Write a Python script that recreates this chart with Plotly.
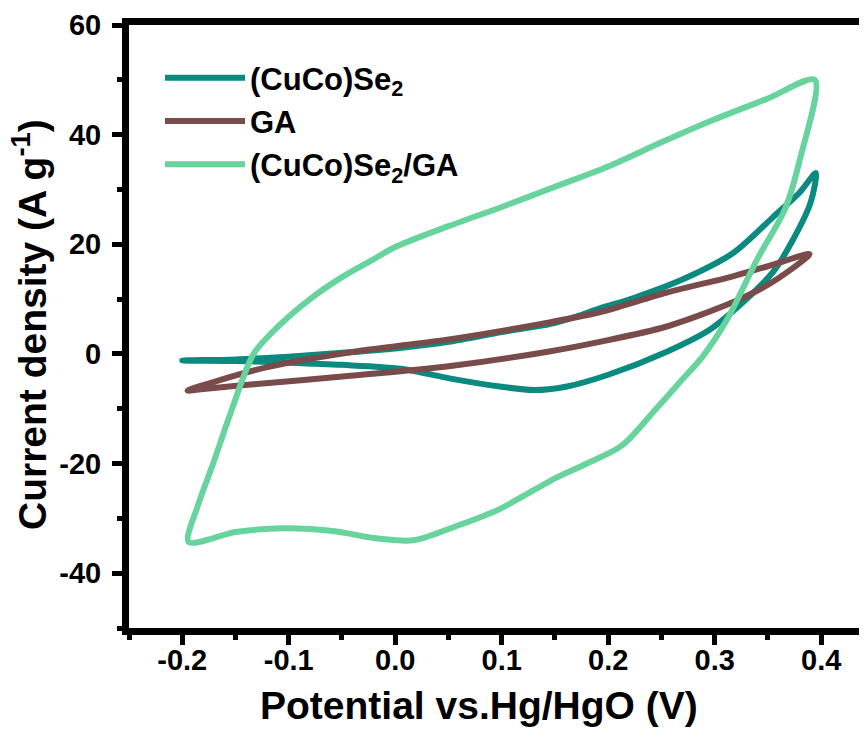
import plotly.graph_objects as go

# ---------------- data ----------------
cuco_x = [-0.200, -0.150, -0.100, -0.050, 0.000, 0.050, 0.100, 0.146, 0.170, 0.192, 0.224, 0.270, 0.318, 0.355, 0.380, 0.395,
          0.390, 0.374, 0.355, 0.327, 0.296, 0.255, 0.200, 0.160, 0.130, 0.100, 0.052, 0.005, -0.050, -0.100, -0.150, -0.200]
cuco_y = [-1.2, -1.0, -0.5, 0.2, 1.0, 2.2, 4.0, 5.5, 6.8, 8.3, 10.2, 13.6, 18.5, 25.0, 29.5, 33.0,
          27.6, 21.0, 15.0, 9.5, 4.5, 0.4, -3.8, -6.0, -6.6, -6.0, -4.5, -2.7, -2.0, -1.6, -1.3, -1.2]

ga_x = [-0.195, -0.167, -0.120, -0.042, 0.052, 0.146, 0.192, 0.255, 0.318, 0.355, 0.389,
        0.355, 0.318, 0.255, 0.192, 0.146, 0.052, -0.042, -0.136, -0.180, -0.195]
ga_y = [-6.7, -4.9, -2.4, 0.3, 2.7, 5.8, 7.6, 11.2, 14.2, 16.3, 18.2,
        13.2, 9.5, 5.0, 2.2, 0.5, -2.2, -4.0, -5.6, -6.4, -6.7]

comp_x = [-0.194, -0.185, -0.171, -0.155, -0.133, -0.110, -0.080, -0.050, -0.020, 0.000, 0.050, 0.100, 0.150,
          0.200, 0.250, 0.300, 0.350, 0.394,
          0.380, 0.366, 0.340, 0.312, 0.289, 0.268, 0.245, 0.213, 0.180, 0.150, 0.096, 0.052, 0.017, -0.020, -0.055,
          -0.105, -0.150, -0.194]
comp_y = [-34.3, -27.5, -20.0, -11.0, 0.0, 5.0, 10.0, 14.0, 17.3, 19.5, 23.3, 26.8, 30.5,
          34.2, 38.6, 42.8, 46.6, 50.0,
          35.5, 26.4, 17.3, 6.4, -0.4, -5.0, -10.0, -16.7, -20.0, -22.7, -28.5, -31.8, -34.0, -33.6, -32.4,
          -31.8, -32.5, -34.3]

names = ["(CuCo)Se<sub>2</sub>", "GA", "(CuCo)Se<sub>2</sub>/GA"]
colors = ["#0b8a80", "#7a4b4b", "#67d39d"]

x_tickvals = [-0.2, -0.1, 0.0, 0.1, 0.2, 0.3, 0.4]
x_ticktext = ["-0.2", "-0.1", "0.0", "0.1", "0.2", "0.3", "0.4"]
y_tickvals = [-40, -20, 0, 20, 40, 60]
y_ticktext = ["-40", "-20", "0", "20", "40", "60"]

FONT = "Liberation Sans"

fig = go.Figure()
for xs, ys, nm, col in [(cuco_x, cuco_y, names[0], colors[0]),
                        (ga_x, ga_y, names[1], colors[1]),
                        (comp_x, comp_y, names[2], colors[2])]:
    fig.add_trace(go.Scatter(x=xs, y=ys, mode="lines", name=nm,
                             line=dict(color=col, width=6, shape="spline", smoothing=0.8)))

axis_common = dict(
    showgrid=False, zeroline=False, showline=True, linecolor="black", linewidth=7,
    ticks="outside", ticklen=10, tickwidth=5, tickcolor="black",
    tickfont=dict(family=FONT, size=29, color="black", weight="bold"),
)

fig.update_xaxes(range=[-0.25, 0.443], tickvals=x_tickvals, ticktext=x_ticktext, mirror=True,
                 minor=dict(ticks="outside", ticklen=5, tickwidth=5, tickcolor="black", dtick=0.05, tick0=-0.25),
                 ticklabelstandoff=-10, **axis_common)
fig.update_yaxes(range=[-50, 60], tickvals=y_tickvals, ticktext=y_ticktext,
                 minor=dict(ticks="outside", ticklen=5, tickwidth=5, tickcolor="black", dtick=10, tick0=-50),
                 ticklabelstandoff=5, **axis_common)

# page has an 8px body margin: figure is 859x728 so it ends at the window edge
L, T, PW, PH = 121, 17, 738, 603

def px(xw):
    return (xw - 8 - L) / PW

def py(yw):
    return 1 - (yw - 8 - T) / PH

fig.add_annotation(text="Potential vs.Hg/HgO (V)", xref="paper", yref="paper",
                   x=px(479), y=py(705), showarrow=False,
                   font=dict(family=FONT, size=39, color="black", weight="bold"),
                   xanchor="center", yanchor="middle")
fig.add_annotation(text="Current density (A g<sup>-1</sup>)", xref="paper", yref="paper",
                   x=px(29), y=py(325), showarrow=False, textangle=-90,
                   font=dict(family=FONT, size=39, color="black", weight="bold"),
                   xanchor="center", yanchor="middle")

fig.update_layout(
    width=859, height=728,
    margin=dict(l=L, r=0, t=T, b=728 - T - PH, autoexpand=False),
    plot_bgcolor="white", paper_bgcolor="white",
    showlegend=True,
    legend=dict(x=px(160), y=py(51), xanchor="left", yanchor="top",
                bgcolor="rgba(0,0,0,0)", borderwidth=0, itemwidth=80,
                font=dict(family=FONT, size=31, color="black", weight="bold")),
)

fig.write_html("out.html")
